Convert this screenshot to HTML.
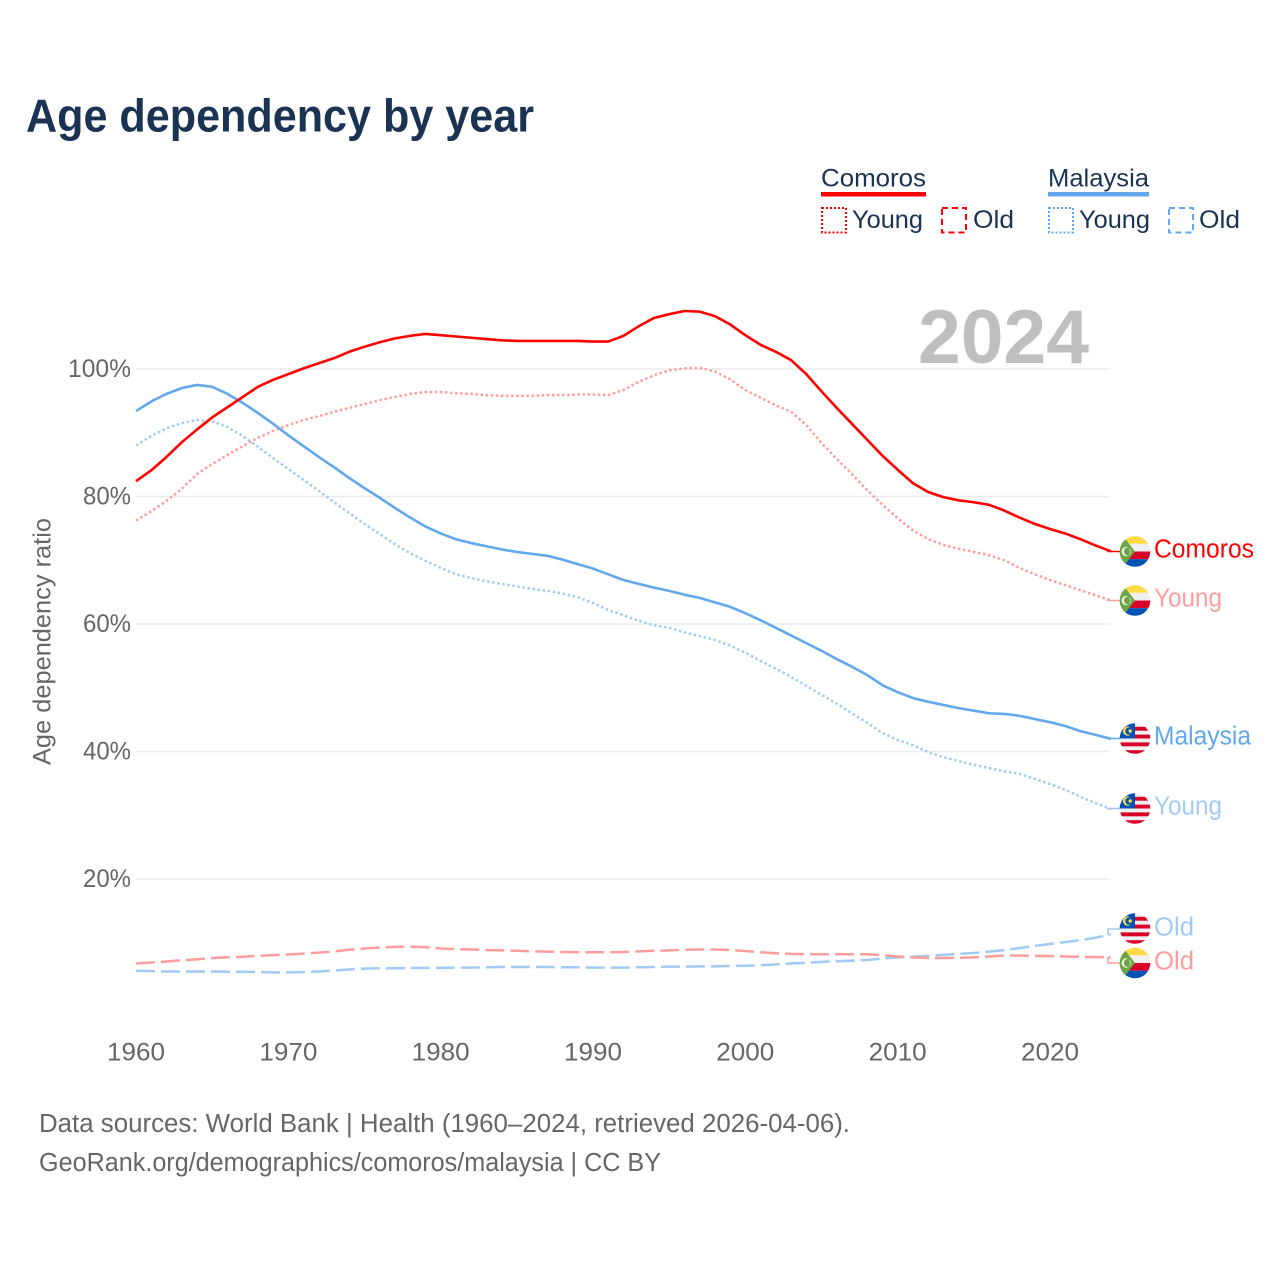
<!DOCTYPE html>
<html lang="en">
<head>
<meta charset="utf-8">
<title>Age dependency by year</title>
<style>
html,body{margin:0;padding:0;background:#fff;width:1280px;height:1280px;overflow:hidden}
svg{display:block}
text{font-family:"Liberation Sans",sans-serif}
.legend{fill:#1a3353;font-size:25px}
.tick{fill:#666;font-size:25px}
.foot{fill:#666;font-size:25.5px}
.end{font-size:25.5px}
</style>
</head>
<body>
<svg id="chart" xmlns="http://www.w3.org/2000/svg" width="1280" height="1280" viewBox="0 0 1280 1280">
  <defs>
    <clipPath id="flag-clip"><circle cx="0" cy="0" r="15.3"/></clipPath>
    <symbol id="flag-comoros" overflow="visible" viewBox="-16 -16 32 32" width="32" height="32">
      <g clip-path="url(#flag-clip)">
        <rect x="-16" y="-16" width="32" height="8.3" fill="#ffda44"/>
        <rect x="-16" y="-7.7" width="32" height="7.7" fill="#f0f0f0"/>
        <rect x="-16" y="0" width="32" height="7.7" fill="#d80027"/>
        <rect x="-16" y="7.7" width="32" height="8.3" fill="#0052b4"/>
        <polygon points="0,0 -12.3,-16 -16,-16 -16,16 -12.3,16" fill="#6da544"/>
        <circle cx="-8.6" cy="0" r="4.8" fill="#f0f0f0"/>
        <circle cx="-7" cy="0" r="4.1" fill="#6da544"/>
        <circle cx="-5.2" cy="-2.4" r="0.6" fill="#f0f0f0"/>
        <circle cx="-4.6" cy="-0.8" r="0.6" fill="#f0f0f0"/>
        <circle cx="-4.6" cy="0.8" r="0.6" fill="#f0f0f0"/>
        <circle cx="-5.2" cy="2.4" r="0.6" fill="#f0f0f0"/>
      </g>
    </symbol>
    <symbol id="flag-malaysia" overflow="visible" viewBox="-16 -16 32 32" width="32" height="32">
      <g clip-path="url(#flag-clip)">
        <rect x="-16" y="-16" width="32" height="32" fill="#f0f0f0"/>
        <rect x="-16" y="-11.7" width="32" height="3.9" fill="#d80027"/>
        <rect x="-16" y="-3.9" width="32" height="3.9" fill="#d80027"/>
        <rect x="-16" y="3.9" width="32" height="3.9" fill="#d80027"/>
        <rect x="-16" y="11.7" width="32" height="4.3" fill="#d80027"/>
        <rect x="-16" y="-16" width="16" height="16" fill="#0052b4"/>
        <circle cx="-7.5" cy="-7.5" r="4.6" fill="#ffda44"/>
        <circle cx="-6" cy="-7.5" r="3.7" fill="#0052b4"/>
        <circle cx="-4.8" cy="-7.5" r="1.7" fill="#ffda44"/>
      </g>
    </symbol>
  </defs>

  <text x="26" y="131.5" font-size="46" font-weight="700" fill="#1a3353" textLength="508" lengthAdjust="spacingAndGlyphs">Age dependency by year</text>

  <g>
    <g>
      <text class="legend" x="821" y="186.5" textLength="105" lengthAdjust="spacingAndGlyphs">Comoros</text>
      <rect x="821" y="192" width="105" height="4.5" fill="#ff0000"/>
      <rect x="822" y="208" width="24" height="24.5" fill="none" stroke="#ff0000" stroke-width="2" stroke-dasharray="2 2"/>
      <text class="legend" x="852" y="228" textLength="71" lengthAdjust="spacingAndGlyphs">Young</text>
      <rect x="942" y="208" width="24" height="24.5" fill="none" stroke="#ff0000" stroke-width="2" stroke-dasharray="6 4"/>
      <text class="legend" x="973" y="228" textLength="41" lengthAdjust="spacingAndGlyphs">Old</text>
    </g>
    <g>
      <text class="legend" x="1048" y="186.5" textLength="101" lengthAdjust="spacingAndGlyphs">Malaysia</text>
      <rect x="1048" y="192" width="101" height="4.5" fill="#63a8ec"/>
      <rect x="1049" y="208" width="24" height="24.5" fill="none" stroke="#63a8ec" stroke-width="2" stroke-dasharray="2 2"/>
      <text class="legend" x="1079" y="228" textLength="71" lengthAdjust="spacingAndGlyphs">Young</text>
      <rect x="1169" y="208" width="24" height="24.5" fill="none" stroke="#63a8ec" stroke-width="2" stroke-dasharray="6 4"/>
      <text class="legend" x="1199" y="228" textLength="41" lengthAdjust="spacingAndGlyphs">Old</text>
    </g>
  </g>

  <g id="grid"></g>
  <text x="918" y="363" font-size="76" font-weight="700" fill="#bfbfbf" textLength="171" lengthAdjust="spacingAndGlyphs">2024</text>
  <g id="yticks"></g>
  <g id="xticks"></g>
  <text class="tick" transform="translate(50.5,765) rotate(-90)" x="0" y="0" textLength="247" lengthAdjust="spacingAndGlyphs">Age dependency ratio</text>

  <g id="series"></g>
  <g id="ends"></g>

  <text class="foot" x="39" y="1132" textLength="811" lengthAdjust="spacingAndGlyphs">Data sources: World Bank | Health (1960–2024, retrieved 2026-04-06).</text>
  <text class="foot" x="39" y="1171" textLength="622" lengthAdjust="spacingAndGlyphs">GeoRank.org/demographics/comoros/malaysia | CC BY</text>
</svg>

<script>
var firstYear = 1960;
var xTickYears = [1960, 1970, 1980, 1990, 2000, 2010, 2020];
var yTickValues = [20, 40, 60, 80, 100];

var comorosTotal = [
  82.4,84.1,86.2,88.5,90.5,92.4,94.0,95.6,97.2,98.3,
  99.2,100.1,100.9,101.7,102.7,103.5,104.2,104.8,105.2,105.5,
  105.3,105.1,104.9,104.7,104.5,104.4,104.4,104.4,104.4,104.4,
  104.3,104.3,105.2,106.7,108.0,108.6,109.1,109.0,108.3,107.0,
  105.3,103.8,102.7,101.4,99.2,96.5,93.9,91.4,88.9,86.4,
  84.2,82.1,80.7,79.9,79.4,79.1,78.7,77.8,76.7,75.7,
  74.9,74.2,73.3,72.3,71.4
];
var comorosYoung = [
  76.2,77.7,79.3,81.2,83.5,85.1,86.5,87.9,89.2,90.3,
  91.2,92.0,92.6,93.3,93.9,94.5,95.1,95.6,96.1,96.4,
  96.4,96.2,96.1,95.9,95.8,95.8,95.8,95.9,95.9,96.0,
  96.0,95.9,96.7,98.0,99.0,99.8,100.1,100.2,99.6,98.4,
  96.7,95.5,94.3,93.3,91.2,88.4,85.9,83.5,81.0,78.7,
  76.6,74.7,73.3,72.4,71.8,71.3,70.8,70.0,68.8,67.8,
  66.9,66.1,65.3,64.5,63.7
];
var comorosOld = [
  6.75,6.9,7.05,7.25,7.4,7.6,7.7,7.8,7.95,8.05,
  8.15,8.3,8.45,8.65,8.9,9.1,9.25,9.35,9.4,9.3,
  9.1,9.0,8.95,8.85,8.8,8.75,8.65,8.6,8.55,8.5,
  8.5,8.5,8.55,8.65,8.75,8.8,8.9,8.95,8.95,8.85,
  8.7,8.5,8.35,8.25,8.2,8.2,8.2,8.2,8.2,8.05,
  7.85,7.7,7.6,7.6,7.65,7.7,7.85,8.0,8.0,7.95,
  7.9,7.85,7.8,7.75,7.7
];
var malaysiaTotal = [
  93.4,94.9,96.1,97.0,97.5,97.2,96.1,94.7,93.1,91.4,
  89.6,87.9,86.2,84.6,82.9,81.3,79.8,78.2,76.7,75.3,
  74.2,73.3,72.7,72.2,71.7,71.3,71.0,70.7,70.1,69.4,
  68.7,67.8,66.9,66.3,65.7,65.2,64.6,64.1,63.4,62.7,
  61.7,60.6,59.4,58.2,57.0,55.8,54.5,53.3,52.0,50.4,
  49.3,48.4,47.8,47.3,46.8,46.4,46.0,45.9,45.6,45.1,
  44.6,44.0,43.2,42.6,42.0
];
var malaysiaYoung = [
  88.0,89.5,90.7,91.5,92.0,91.8,90.9,89.5,87.8,86.0,
  84.3,82.6,80.9,79.1,77.4,75.7,74.1,72.5,71.1,69.9,
  68.8,67.8,67.2,66.7,66.3,65.9,65.5,65.2,64.8,64.2,
  63.3,62.2,61.4,60.5,59.8,59.4,58.7,58.1,57.5,56.6,
  55.5,54.2,53.0,51.7,50.3,48.9,47.5,46.0,44.5,42.9,
  41.8,41.0,39.9,39.1,38.5,37.9,37.4,36.9,36.5,35.7,
  34.9,34.0,32.9,31.9,31.0
];
var malaysiaOld = [
  5.6,5.55,5.5,5.5,5.5,5.5,5.45,5.45,5.4,5.35,
  5.35,5.4,5.5,5.65,5.8,5.95,6.0,6.0,6.05,6.05,
  6.05,6.1,6.1,6.15,6.2,6.2,6.2,6.2,6.15,6.15,
  6.1,6.1,6.1,6.15,6.2,6.25,6.25,6.3,6.3,6.35,
  6.4,6.45,6.6,6.75,6.85,7.0,7.1,7.2,7.3,7.5,
  7.7,7.8,7.95,8.1,8.25,8.4,8.6,8.85,9.15,9.5,
  9.8,10.1,10.4,10.8,11.3
];

var SVGNS = 'http://www.w3.org/2000/svg';
function xScale(year){ return 136 + (year - 1960) * 15.233; }
function yScale(pct){ return 1006.5 - pct * 6.375; }
function make(tag, parent, attrs){
  var el = document.createElementNS(SVGNS, tag);
  for (var k in attrs) { el.setAttribute(k, attrs[k]); }
  parent.appendChild(el);
  return el;
}
var gridGroup = document.getElementById('grid');
var yTickGroup = document.getElementById('yticks');
var xTickGroup = document.getElementById('xticks');
var seriesGroup = document.getElementById('series');
var endGroup = document.getElementById('ends');

yTickValues.forEach(function(v){
  var line = make('line', gridGroup, {x1:136, x2:1110, y1:yScale(v), y2:yScale(v), stroke:'#ececec', 'stroke-width':1.6});
  
  
  var label = make('text', yTickGroup, {x:131, y:yScale(v)+7.8, 'text-anchor':'end', 'class':'tick', textLength:(v===100?63:48), lengthAdjust:'spacingAndGlyphs'});
  label.textContent = v + '%';
  
  
});
xTickYears.forEach(function(y){
  var label = make('text', xTickGroup, {x:xScale(y), y:1060.3, 'text-anchor':'middle', 'class':'tick', textLength:58, lengthAdjust:'spacingAndGlyphs'});
  label.textContent = String(y);
  
  
});

function drawSeries(values, color, dash, width, flagY){
  var d = values.map(function(v, i){
    return (i ? 'L' : 'M') + xScale(firstYear + i).toFixed(2) + ',' + yScale(v).toFixed(2);
  }).join(' ');
  var endY = yScale(values[values.length - 1]);
  var attrs = {d:d, fill:'none', stroke:color, 'stroke-width':width, 'stroke-linejoin':'round'};
  if (dash) { attrs['stroke-dasharray'] = dash; }
  var path = make('path', seriesGroup, attrs);
  
  
  var joint = make('path', seriesGroup, {d:'M' + xScale(firstYear + values.length - 1).toFixed(2) + ',' + endY.toFixed(2) + ' L1108,' + endY.toFixed(2) + ' V' + flagY + ' H1120', fill:'none', stroke:color, 'stroke-width':1.6});
  
  
}
function drawEnd(flag, flagY, text, color, baseline, width){
  var use = make('use', endGroup, {href:'#' + flag, x:1119, y:flagY - 16, width:32, height:32});
  
  
  var label = make('text', endGroup, {x:1154, y:baseline, fill:color, 'class':'end', textLength:width, lengthAdjust:'spacingAndGlyphs'});
  label.textContent = text;
  
  
}

var red = '#ff0000', blue = '#63a8ec', lightRed = '#ff9d9d', lightBlue = '#a1cbf4';
drawSeries(malaysiaOld, lightBlue, '19 6', 2.5, 929);
drawSeries(comorosOld, lightRed, '19 6', 2.5, 963);
drawSeries(malaysiaYoung, lightBlue, '2.5 2.6', 2.5, 808.5);
drawSeries(comorosYoung, lightRed, '2.5 2.6', 2.5, 600.5);
drawSeries(malaysiaTotal, blue, null, 2.6, 738.5);
drawSeries(comorosTotal, red, null, 2.6, 551.5);

drawEnd('flag-comoros', 551.5, 'Comoros', red, 557.5, 100);
drawEnd('flag-comoros', 600.5, 'Young', lightRed, 606.5, 68);
drawEnd('flag-malaysia', 738.5, 'Malaysia', blue, 744.5, 97);
drawEnd('flag-malaysia', 808.5, 'Young', lightBlue, 814.5, 68);
drawEnd('flag-malaysia', 928.5, 'Old', lightBlue, 935.5, 40);
drawEnd('flag-comoros', 963, 'Old', lightRed, 969.5, 40);
</script>
</body>
</html>
